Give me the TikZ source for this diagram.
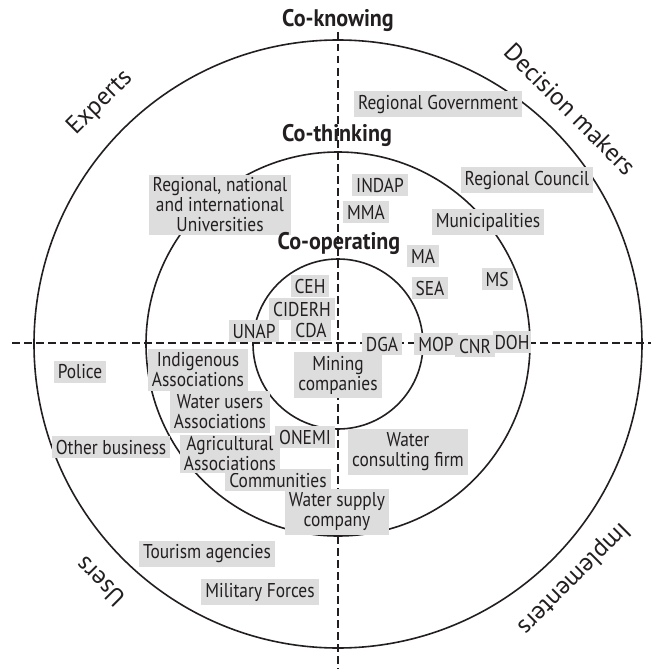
\documentclass[tikz,border=0pt]{standalone}
\usepackage{fontspec}
\setmainfont{PT Sans}
\newfontfamily\boxfont{PT Sans}[FakeStretch=0.87]
\newfontfamily\headfont{PT Sans}[FakeStretch=0.92]
\newfontfamily\ringfont{PT Sans}
\definecolor{boxgray}{RGB}{221,221,222}
\definecolor{ink}{RGB}{35,31,32}
\tikzset{
  ring/.style={draw=ink, line width=1.6pt},
  axis/.style={draw=ink, line width=1.6pt, dash pattern=on 7.5pt off 4.5pt},
  lbl/.style={fill=boxgray, text=ink, inner xsep=4pt, inner ysep=3.5pt, align=center,
    font=\boxfont\fontsize{20}{20}\selectfont},
  head/.style={text=ink, inner sep=0pt, font=\headfont\bfseries\fontsize{24}{26}\selectfont},
  ringlbl/.style={text=ink, inner sep=0pt, font=\ringfont\fontsize{25}{28}\selectfont}
}
\begin{document}
\begin{tikzpicture}[x=1pt,y=-1pt]
\useasboundingbox (0,0) rectangle (651,669);
\coordinate (c) at (338,344);
% circles
\draw[ring] (c) circle[radius=304];
\draw[ring] (c) circle[radius=192];
\draw[ring] (c) circle[radius=85];
% axes
\coordinate (vtop) at (338,32);
\coordinate (vbot) at (338,669);
\coordinate (hl) at (12,343);
\coordinate (hr) at (651,343);
\draw[axis] (vtop) -- (vbot);
\draw[axis] (hl) -- (hr);
% boxes
\node[lbl] (regov) at (438,104) {Regional Government};
\node[lbl] (recouncil) at (527,180) {Regional Council};
\node[lbl] (indap) at (380,185) {INDAP};
\node[lbl] (mma) at (366,212) {MMA};
\node[lbl, inner ysep=2.5pt] (univ) at (220,205) {Regional, national\\and international\\Universities};
\node[lbl] (munic) at (488,222) {Municipalities};
\node[lbl] (ma) at (423,256) {MA};
\node[lbl] (sea) at (430,288) {SEA};
\node[lbl] (ms) at (497,279) {MS};
\node[lbl] (ceh) at (310,286) {CEH};
\node[lbl] (ciderh) at (302,309) {CIDERH};
\node[lbl] (cda) at (311,330) {CDA};
\node[lbl] (unap) at (254,331) {UNAP};
\node[lbl] (dga) at (382,344) {DGA};
\node[lbl] (mop) at (436,344) {MOP};
\node[lbl] (cnr) at (475,346) {CNR};
\node[lbl, inner xsep=1.5pt] (doh) at (512,342) {DOH};
\node[lbl] (police) at (80,372) {Police};
\node[lbl] (indig) at (198,370) {Indigenous\\Associations};
\node[lbl] (mining) at (338,375) {Mining\\companies};
\node[lbl] (wateru) at (220,412) {Water users\\Associations};
\node[lbl] (other) at (111,447) {Other business};
\node[lbl] (commun) at (278,480) {Communities};
\node[lbl, inner ysep=2pt] (agri) at (230,454) {Agricultural\\Associations};
\node[lbl] (onemi) at (305,437) {ONEMI};
\node[lbl] (wcons) at (408,452) {Water\\consulting firm};
\node[lbl] (wsupply) at (337,512) {Water supply\\company};
\node[lbl] (tourism) at (207,554) {Tourism agencies};
\node[lbl] (military) at (260,592) {Military Forces};
% headings
\node[head] (coknow) at (338,20) {Co-knowing};
\node[head] (cothink) at (337,135) {Co-thinking};
\node[head] (coop) at (339,243) {Co-operating};
% ring labels
\node[ringlbl, rotate=45] (experts) at (100,103) {Experts};
\node[ringlbl, rotate=-45] (decision) at (570,109) {Decision makers};
\node[ringlbl, rotate=225] (implem) at (573,578) {Implementers};
\node[ringlbl, rotate=135] (users) at (100,582) {Users};
\end{tikzpicture}
\end{document}
